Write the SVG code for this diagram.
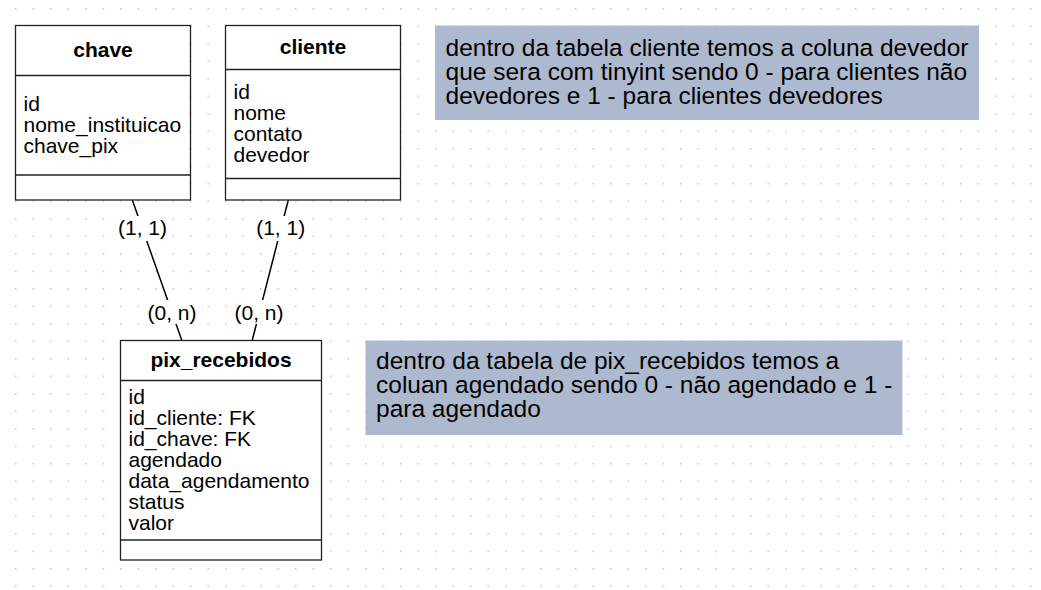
<svg xmlns="http://www.w3.org/2000/svg" width="1041" height="590" viewBox="0 0 1041 590">
  <defs>
    <pattern id="grid" patternUnits="userSpaceOnUse" x="15" y="8" width="17.5" height="17.5">
      <rect x="0" y="0" width="1.5" height="1.5" fill="#c4c4c4"/>
    </pattern>
    <style>
      .box { fill: #ffffff; stroke: #222222; stroke-width: 1.3; }
      .sep { stroke: #222222; stroke-width: 1.3; fill: none; }
      .title { font-family: "Liberation Sans", Arial, sans-serif; font-size: 21px; font-weight: bold; fill: #000000; text-anchor: middle; }
      .field { font-family: "Liberation Sans", Arial, sans-serif; font-size: 21px; fill: #000000; }
      .note { fill: #adb9ce; stroke: none; }
      .notetext { font-family: "Liberation Sans", Arial, sans-serif; font-size: 24.5px; fill: #000000; }
      .edge { stroke: #000000; stroke-width: 1.5; fill: none; }
      .lblbg { fill: #ffffff; stroke: none; }
      .lbl { font-family: "Liberation Sans", Arial, sans-serif; font-size: 21px; fill: #000000; text-anchor: middle; }
    </style>
  </defs>
  <rect x="0" y="0" width="1041" height="590" fill="#ffffff"/>
  <rect x="0" y="0" width="1041" height="590" fill="url(#grid)"/>

  <g id="connectors">
    <line class="edge" x1="132.3" y1="200" x2="181.7" y2="340"/>
    <line class="edge" x1="288.3" y1="200" x2="252.3" y2="340"/>
    <rect class="lblbg" x="117" y="216" width="51" height="25"/>
    <text class="lbl" x="142.5" y="235">(1, 1)</text>
    <rect class="lblbg" x="146.5" y="300" width="51" height="24"/>
    <text class="lbl" x="172" y="319.5">(0, n)</text>
    <rect class="lblbg" x="255.2" y="216" width="51" height="25"/>
    <text class="lbl" x="280.7" y="235">(1, 1)</text>
    <rect class="lblbg" x="233.5" y="300" width="51" height="24"/>
    <text class="lbl" x="259" y="319.5">(0, n)</text>
  </g>

  <g id="chave">
    <rect class="box" x="15.5" y="25.5" width="175" height="174.5"/>
    <line class="sep" x1="15.5" y1="75.5" x2="190.5" y2="75.5"/>
    <line class="sep" x1="15.5" y1="175" x2="190.5" y2="175"/>
    <text class="title" x="103" y="57">chave</text>
    <text class="field"><tspan x="23.5" y="110.5">id</tspan><tspan x="23.5" y="131.5">nome_instituicao</tspan><tspan x="23.5" y="152.5">chave_pix</tspan></text>
  </g>

  <g id="cliente">
    <rect class="box" x="225.5" y="25.5" width="175" height="174.5"/>
    <line class="sep" x1="225.5" y1="69.5" x2="400.5" y2="69.5"/>
    <line class="sep" x1="225.5" y1="178.5" x2="400.5" y2="178.5"/>
    <text class="title" x="313" y="54">cliente</text>
    <text class="field"><tspan x="233.5" y="98.5">id</tspan><tspan x="233.5" y="119.5">nome</tspan><tspan x="233.5" y="140.5">contato</tspan><tspan x="233.5" y="161.5">devedor</tspan></text>
  </g>

  <g id="pix_recebidos">
    <rect class="box" x="120.5" y="340.5" width="201" height="219.5"/>
    <line class="sep" x1="120.5" y1="380.5" x2="321.5" y2="380.5"/>
    <line class="sep" x1="120.5" y1="540" x2="321.5" y2="540"/>
    <text class="title" x="221" y="367">pix_recebidos</text>
    <text class="field"><tspan x="128.5" y="404">id</tspan><tspan x="128.5" y="425">id_cliente: FK</tspan><tspan x="128.5" y="446">id_chave: FK</tspan><tspan x="128.5" y="467">agendado</tspan><tspan x="128.5" y="488">data_agendamento</tspan><tspan x="128.5" y="509">status</tspan><tspan x="128.5" y="530">valor</tspan></text>
  </g>

  <g id="note_cliente">
    <rect class="note" x="435" y="25.5" width="544" height="94.5"/>
    <text class="notetext"><tspan x="445.5" y="55.5">dentro da tabela cliente temos a coluna devedor</tspan><tspan x="445.5" y="79.5">que sera com tinyint sendo 0 - para clientes não</tspan><tspan x="445.5" y="103.5">devedores e 1 - para clientes devedores</tspan></text>
  </g>

  <g id="note_pix">
    <rect class="note" x="365.5" y="340.5" width="537" height="94.5"/>
    <text class="notetext"><tspan x="376" y="368.5">dentro da tabela de pix_recebidos temos a</tspan><tspan x="376" y="392.5">coluan agendado sendo 0 - não agendado e 1 -</tspan><tspan x="376" y="416.5">para agendado</tspan></text>
  </g>
</svg>
